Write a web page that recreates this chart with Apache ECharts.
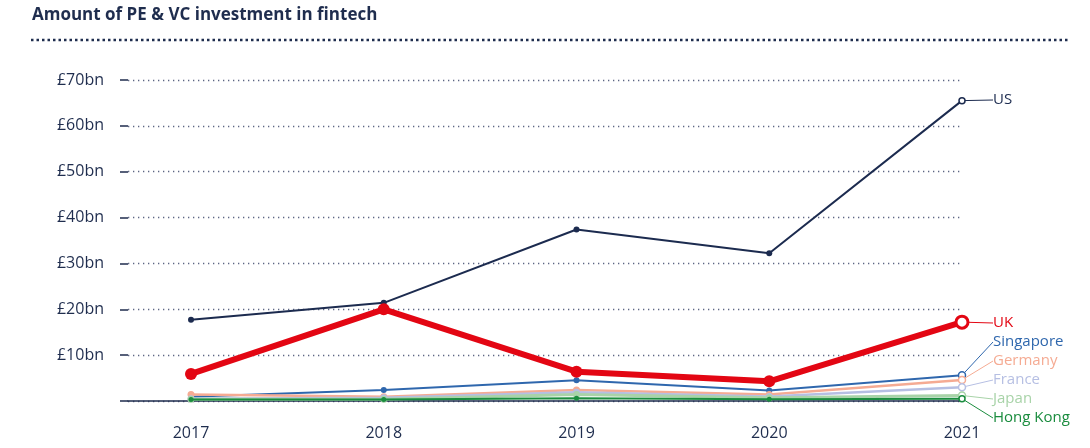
<!DOCTYPE html>
<html>
<head>
<meta charset="utf-8">
<style>
html,body{margin:0;padding:0;background:#fff;}
#chart{width:1090px;height:448px;}
</style>
<script src="https://cdn.jsdelivr.net/npm/echarts@6/dist/echarts.min.js"></script>
</head>
<body>
<div id="chart"></div>
<script>
// ---- data ----
const years = [2017, 2018, 2019, 2020, 2021];
const yTicks = [10, 20, 30, 40, 50, 60, 70];
const us        = [17.7, 21.4, 37.4, 32.2, 65.5];
const uk        = [5.9, 20.0, 6.4, 4.3, 17.2];
const singapore = [0.9, 2.4, 4.5, 2.3, 5.6];
const germany   = [1.4, 0.9, 2.4, 1.4, 4.6];
const france    = [0.5, 0.7, 1.9, 1.0, 3.0];
const japan     = [0.4, 0.4, 1.4, 0.7, 1.2];
const hongkong  = [0.3, 0.3, 0.6, 0.4, 0.5];

// ---- styles / layout ----
const NAVY = '#1f2d4e';
const labelY = {US: 100, UK: 323, Singapore: 342, Germany: 361, France: 380, Japan: 399, 'Hong Kong': 418};
const LABEL_X = 993;

function makeSeries(name, vals, color, width, symSize, lastSize, borderW, z) {
  const last = vals.length - 1;
  return {
    name: name,
    type: 'line',
    clip: false,
    z: z,
    data: vals.map((v, i) => {
      const item = {value: [years[i], v]};
      if (i === last) {
        item.symbol = 'circle';
        item.symbolSize = lastSize;
        item.itemStyle = {color: '#ffffff', borderColor: color, borderWidth: borderW};
        item.label = {show: true};
      }
      return item;
    }),
    symbol: 'circle',
    symbolSize: symSize,
    showAllSymbol: true,
    lineStyle: {color: color, width: width},
    itemStyle: {color: color},
    label: {
      show: false,
      formatter: name,
      color: color,
      fontSize: 15,
      fontFamily: '"Open Sans", sans-serif'
    },
    labelLine: {show: true, lineStyle: {color: color, width: 1}},
    labelLayout: function () {
      return {x: LABEL_X, y: labelY[name], align: 'left', verticalAlign: 'middle'};
    },
    emphasis: {disabled: true},
    animation: false
  };
}

const chart = echarts.init(document.getElementById('chart'), null, {renderer: 'canvas'});
chart.setOption({
  animation: false,
  graphic: [
    {type: 'text', left: 32, top: 7, style: {text: 'Amount of PE & VC investment in fintech', font: 'bold 17px "Open Sans", sans-serif', fill: NAVY}},
    {type: 'line', shape: {x1: 31, y1: 40, x2: 1070, y2: 40}, style: {stroke: NAVY, lineWidth: 2.5, lineDash: [2.5, 3]}}
  ],
  grid: {left: 128, right: 128, top: 80, bottom: 47, containLabel: false},
  xAxis: {
    type: 'value',
    min: 2017 - 63 / 192.75,
    max: 2021,
    axisLine: {show: true, lineStyle: {color: NAVY, width: 1.5}},
    axisTick: {show: false},
    splitLine: {show: false},
    axisLabel: {
      customValues: years,
      margin: 24,
      fontSize: 16,
      color: NAVY,
      fontFamily: '"Open Sans", sans-serif',
      formatter: v => String(v)
    }
  },
  yAxis: {
    type: 'value',
    min: 0, max: 70, interval: 10,
    axisLine: {show: false},
    axisTick: {show: true, length: 8, lineStyle: {color: NAVY, width: 1.5}},
    splitLine: {show: true, lineStyle: {color: '#5d6683', width: 1.3, type: [1.3, 3.7]}},
    axisLabel: {
      margin: 24,
      fontSize: 16,
      color: NAVY,
      fontFamily: '"Open Sans", sans-serif',
      formatter: v => (yTicks.indexOf(v) >= 0 ? '£' + v + 'bn' : '')
    }
  },
  series: [
    makeSeries('US', us, '#1c2b4f', 2, 6, 6, 1.5, 2),
    makeSeries('Singapore', singapore, '#2f67ad', 2, 6, 7, 1.5, 3),
    makeSeries('Germany', germany, '#f5ab93', 2.5, 7, 7, 1.5, 4),
    makeSeries('France', france, '#b6bfe3', 2.5, 7, 7, 1.5, 5),
    makeSeries('Hong Kong', hongkong, '#1a8c3e', 2, 5, 6, 1.5, 6),
    makeSeries('Japan', japan, '#a8d3a8', 3, 7, 7, 1.5, 5),
    makeSeries('UK', uk, '#e30613', 6, 12, 12, 3, 8)
  ]
});
</script>
</body>
</html>
